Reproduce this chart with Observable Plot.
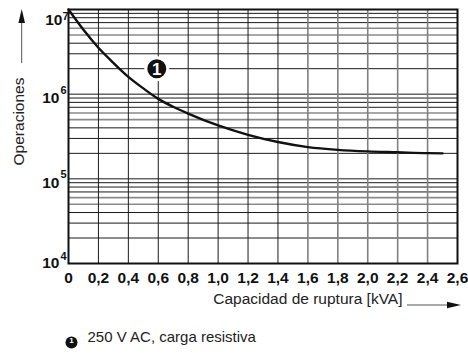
<!DOCTYPE html>
<html>
<head>
<meta charset="utf-8">
<script src="https://cdn.jsdelivr.net/npm/d3@7"></script>
<script src="https://cdn.jsdelivr.net/npm/@observablehq/plot@0.6"></script>
<style>
  html, body { margin: 0; padding: 0; background: #fff; }
  svg { display: block; }
</style>
</head>
<body>
<div id="chart"></div>
<script>
// Curve: 250 V AC, resistive load
const capacity = [0, 0.1, 0.2, 0.3, 0.4, 0.5, 0.6, 0.7, 0.8, 1.0, 1.2, 1.4, 1.6, 1.8, 2.0, 2.2, 2.4, 2.5];
const operations = [1.0e7, 5.75e6, 3.53e6, 2.34e6, 1.60e6, 1.17e6, 8.8e5, 7.1e5, 5.9e5, 4.27e5, 3.31e5, 2.72e5, 2.37e5, 2.20e5, 2.11e5, 2.06e5, 2.01e5, 2.0e5];

const xTicks = [0, 0.2, 0.4, 0.6, 0.8, 1.0, 1.2, 1.4, 1.6, 1.8, 2.0, 2.2, 2.4, 2.6];
const yDecades = [1e4, 1e5, 1e6, 1e7];
const yMultipliers = [1, 2, 3, 4, 5, 6, 7, 8, 9];

const yLabel = "Operaciones";
const xLabel = "Capacidad de ruptura [kVA]";
const seriesLabel = "250 V AC, carga resistiva";
const markerText = "1";
const markerAt = {x: 0.59, y: 2e6};

const curve = capacity.map((c, i) => ({x: c, y: operations[i]}));
const yGrid = [];
for (const d of yDecades.slice(0, -1)) for (const m of yMultipliers) yGrid.push(m * d);
yGrid.push(yDecades[yDecades.length - 1]);
const mult = v => Math.round(v / Math.pow(10, Math.floor(Math.log10(v) + 1e-9)));
const yGridDark = yGrid.filter(v => mult(v) !== 5 && mult(v) !== 6);
const yGridLight = yGrid.filter(v => !yGridDark.includes(v));
const xGridDark = xTicks.filter(v => v > 0 && v < 1.5);
const xGridLight = xTicks.filter(v => v > 1.5 && v < 2.55);

const font = "'Liberation Sans', Arial, Helvetica, sans-serif";
const yTop = yDecades[yDecades.length - 1], yBottom = yDecades[0];
const yMid = yDecades.filter(d => d !== yTop && d !== yBottom);
const expo = d => String(Math.round(Math.log10(d)));
const tickFont = {fontSize: 15.5, fontWeight: "bold", fill: "#111"};
const expFont = {fontSize: 11, fontWeight: "bold", fill: "#111"};

const plot = Plot.plot({
  width: 468,
  height: 359,
  marginLeft: 68,
  marginRight: 11,
  marginTop: 9,
  marginBottom: 96,
  style: {fontFamily: font, background: "#fff", color: "#111"},
  x: {domain: [0, 2.6], axis: null},
  y: {type: "log", domain: [yBottom, yTop], axis: null},
  marks: [
    Plot.ruleY(yGridLight, {y: d => d, stroke: "#8a8a8a", strokeWidth: 1.6}),
    Plot.ruleY(yGridDark, {y: d => d, stroke: "#1a1a1a", strokeWidth: 1}),
    Plot.ruleX(xGridLight, {x: d => d, stroke: "#808080", strokeWidth: 1.6}),
    Plot.ruleX(xGridDark, {x: d => d, stroke: "#1a1a1a", strokeWidth: 1}),
    Plot.frame({stroke: "#111", strokeWidth: 2}),
    Plot.line(curve, {x: "x", y: "y", curve: "monotone-x", stroke: "#111", strokeWidth: 2.4}),
    // marker
    Plot.dot([markerAt], {x: "x", y: "y", r: 11, fill: "#111", stroke: "#fff", strokeWidth: 3}),
    Plot.text([markerAt], {x: "x", y: "y", text: () => markerText, fill: "#fff", fontSize: 17, fontWeight: "bold", dy: 1}),
    // x axis
    Plot.axisX(xTicks, {tickSize: 0, tickPadding: 8, ...tickFont,
      tickFormat: d => d === 0 ? "0" : d.toFixed(1).replace(".", ","), label: null}),
    // y tick labels: 10^k
    Plot.text(yMid, {y: d => d, text: () => "10", frameAnchor: "left", textAnchor: "end", dx: -9, dy: 4, ...tickFont}),
    Plot.text(yMid, {y: d => d, text: expo, frameAnchor: "left", textAnchor: "end", dx: -2, dy: -4, ...expFont}),
    Plot.text([yTop], {y: d => d, text: () => "10", frameAnchor: "left", textAnchor: "end", dx: -6, dy: 11, ...tickFont}),
    Plot.text([yTop], {y: d => d, text: expo, frameAnchor: "left", textAnchor: "end", dx: 0, dy: 7, ...expFont}),
    Plot.text([yBottom], {y: d => d, text: () => "10", frameAnchor: "left", textAnchor: "end", dx: -9, dy: 0, ...tickFont}),
    Plot.text([yBottom], {y: d => d, text: expo, frameAnchor: "left", textAnchor: "end", dx: -2, dy: -7, ...expFont}),
    // axis labels
    Plot.text([yLabel], {text: d => d, frameAnchor: "left", textAnchor: "middle", rotate: -90, dx: -49, dy: -15, fontSize: 15.5, fill: "#222"}),
    Plot.text([xLabel], {text: d => d, frameAnchor: "bottom-right", textAnchor: "end", dx: -55, dy: 40, fontSize: 15.5, fill: "#222"}),
    // legend
    Plot.dot([seriesLabel], {frameAnchor: "bottom-left", dx: 3, dy: 79, r: 6, fill: "#111"}),
    Plot.text([markerText], {text: d => d, frameAnchor: "bottom-left", textAnchor: "middle", dx: 3, dy: 79.5, fontSize: 8, fontWeight: "bold", fill: "#fff"}),
    Plot.text([seriesLabel], {text: d => d, frameAnchor: "bottom-left", textAnchor: "start", dx: 19, dy: 78, fontSize: 15, fill: "#222"})
  ]
});

// axis direction arrows (decorations)
const svg = d3.select(plot);
const g = svg.append("g");
g.append("line").attr("x1", 21.7).attr("x2", 21.7).attr("y1", 63).attr("y2", 20).attr("stroke", "#555").attr("stroke-width", 1);
g.append("path").attr("d", "M21.7,9 L25,23 L18.4,23 Z").attr("fill", "#111");
g.append("line").attr("x1", 407).attr("x2", 450).attr("y1", 305).attr("y2", 305).attr("stroke", "#555").attr("stroke-width", 1);
g.append("path").attr("d", "M461,305 L447,301.7 L447,308.3 Z").attr("fill", "#111");

document.getElementById("chart").appendChild(plot);
</script>
</body>
</html>
